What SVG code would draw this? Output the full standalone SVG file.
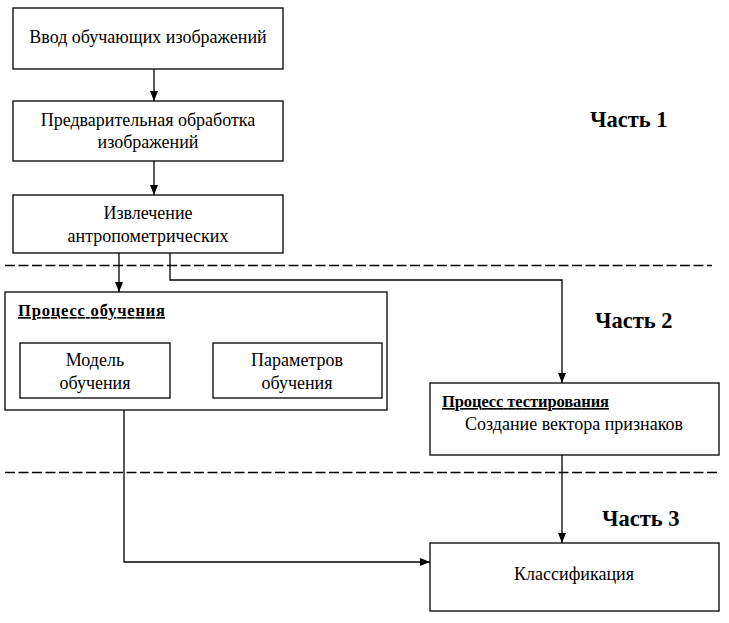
<svg xmlns="http://www.w3.org/2000/svg" width="729" height="623" viewBox="0 0 729 623">
<style>
.t{font-size:18px;text-anchor:middle;fill:#000}
.h{font-size:16.5px;font-weight:bold;text-decoration:underline;fill:#000}
.part{font-size:22.5px;font-weight:bold;fill:#000}
.box{fill:#fff;stroke:#000;stroke-width:1.3}
.ln{fill:none;stroke:#000;stroke-width:1.3}
.dash{fill:none;stroke:#000;stroke-width:1.3;stroke-dasharray:10 3.5}
</style>
<defs>
<marker id="arr" markerWidth="10" markerHeight="10" refX="10" refY="5" orient="auto" markerUnits="userSpaceOnUse">
<path d="M0,1 L10,5 L0,9 Z" fill="#000"/>
</marker>
</defs>
<g id="separators">
<line class="dash" x1="5" y1="265.5" x2="712" y2="265.5"/>
<line class="dash" x1="5" y1="472.5" x2="720" y2="472.5"/>
</g>
<g id="connectors">
<line class="ln" x1="154" y1="69" x2="154" y2="101" marker-end="url(#arr)"/>
<line class="ln" x1="154" y1="161" x2="154" y2="195" marker-end="url(#arr)"/>
<line class="ln" x1="119" y1="253" x2="119" y2="292" marker-end="url(#arr)"/>
<polyline class="ln" points="170,253 170,280 562,280 562,383" marker-end="url(#arr)"/>
<line class="ln" x1="562" y1="455" x2="562" y2="543" marker-end="url(#arr)"/>
<polyline class="ln" points="124,410 124,562 430,562" marker-end="url(#arr)"/>
</g>
<g id="n1">
<rect class="box" x="13" y="8" width="270" height="61"/>
<text class="t" style="font-family:'Liberation Serif'" x="148" y="43">Ввод обучающих изображений</text>
</g>
<g id="n2">
<rect class="box" x="13" y="101" width="270" height="60"/>
<text class="t" style="font-family:'Liberation Serif'" x="148" y="126">Предварительная обработка</text>
<text class="t" style="font-family:'Liberation Serif'" x="148" y="148">изображений</text>
</g>
<g id="n3">
<rect class="box" x="13" y="195" width="270" height="58"/>
<text class="t" style="font-family:'Liberation Serif'" x="148" y="219">Извлечение</text>
<text class="t" style="font-family:'Liberation Serif'" x="148" y="242">антропометрических</text>
</g>
<g id="learning">
<rect class="box" x="5" y="292" width="382" height="118"/>
<text class="h" style="font-family:'Liberation Serif'" x="18" y="316" textLength="147" lengthAdjust="spacing">Процесс обучения</text>
</g>
<g id="model">
<rect class="box" x="20" y="343" width="150" height="55"/>
<text class="t" style="font-family:'Liberation Serif'" x="95" y="366">Модель</text>
<text class="t" style="font-family:'Liberation Serif'" x="95" y="389">обучения</text>
</g>
<g id="params">
<rect class="box" x="213" y="343" width="169" height="55"/>
<text class="t" style="font-family:'Liberation Serif'" x="297" y="366">Параметров</text>
<text class="t" style="font-family:'Liberation Serif'" x="297" y="389">обучения</text>
</g>
<g id="testing">
<rect class="box" x="430" y="383" width="289" height="72"/>
<text class="h" style="font-family:'Liberation Serif'" x="442" y="407" textLength="167" lengthAdjust="spacing">Процесс тестирования</text>
<text class="t" style="font-family:'Liberation Serif'" x="574" y="430">Создание вектора признаков</text>
</g>
<g id="classif">
<rect class="box" x="430" y="543" width="289" height="68"/>
<text class="t" style="font-family:'Liberation Serif'" x="574" y="580">Классификация</text>
</g>
<g id="parts">
<text class="part" style="font-family:'Liberation Serif'" x="590" y="127">Часть 1</text>
<text class="part" style="font-family:'Liberation Serif'" x="595" y="328">Часть 2</text>
<text class="part" style="font-family:'Liberation Serif'" x="602" y="526">Часть 3</text>
</g>
</svg>
